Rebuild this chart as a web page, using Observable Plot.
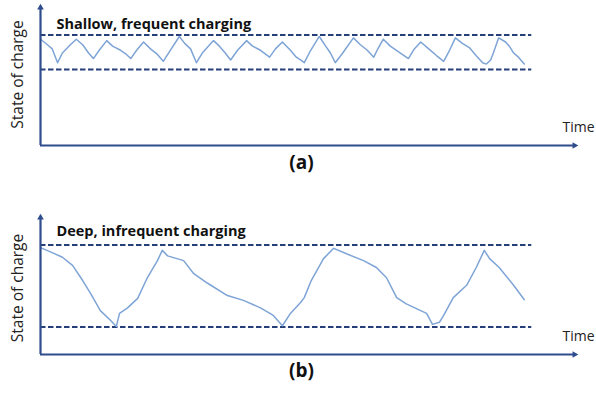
<!DOCTYPE html>
<html><head><meta charset="utf-8">
<script src="https://cdn.jsdelivr.net/npm/d3@7"></script>
<script src="https://cdn.jsdelivr.net/npm/@observablehq/plot@0.6"></script>
<style>
html,body{margin:0;padding:0;background:#fff;}
#wrap{width:596px;font-family:"Open Sans",sans-serif;}
#wrap svg{display:block;}
</style></head><body><div id="wrap"></div>
<script>
// Panel (a): shallow, frequent charging
const timeA = [0,1.3,2.2,3.2,4.1,5.6,6.7,7.9,9.0,9.9,11.0,12.4,13.5,15.0,16.1,16.9,18.0,19.3,20.6,21.9,23.0,24.3,26.0,27.0,28.1,29.2,30.3,32.4,33.5,34.6,35.6,36.9,38.6,39.7,41.2,42.9,44.0,45.3,46.8,47.9,48.7,49.4,50.6,52.2,53.4,54.3,55.2,56.6,58.6,59.9,61.2,62.4,63.3,64.2,65.5,67.4,68.9,70.0,71.2,72.7,74.2,75.5,76.6,77.7,79.0,80.3,81.6,82.8,83.5,84.3,84.8,85.8,87.1,87.8,88.6,89.5,90.6];
const socA  = [77,73,70,60,67,73,77,73,67,63,69,76,72,69,66,63,69,75,70,66,61,69,79,74,70,60,67,76,72,67,62,69,76,72,69,64,70,75,69,64,62,60,69,79,72,67,60,67,78,73,69,64,71,77,72,67,63,70,75,70,65,61,69,78,74,71,65,60,59,62,67,78,75,72,67,64,59];
const boundsA = [80, 55];

// Panel (b): deep, infrequent charging
const timeB = [0,2.4,4.1,6.0,7.9,9.4,11.2,13.1,14.2,14.8,16.3,18.2,20.0,21.9,22.8,23.8,26.8,28.7,31.3,35.0,38.0,41.2,43.6,45.3,46.8,48.7,49.4,50.7,53.0,54.9,57.3,60.5,62.9,64.8,66.7,68.5,70.4,72.3,73.4,74.7,75.5,77.3,79.8,81.6,83.1,84.1,85.9,88.6,90.6];
const socB  = [78,74,71,65,54,44.5,32,25,20.5,30,34,41,56,68.5,76,72,68.5,59,52,43,39.5,34,28.5,21,30,38,41.5,54,70,77.5,73.5,68.5,63.5,56,41.5,37,33.5,30,22,23.5,28.5,41.5,50.5,63.5,76,70,63.5,50.5,40];
const boundsB = [80, 20];

const bandEnd = 92;       // time where dashed limit lines stop
const axisMax = 100;      // axis extent (time and SoC)

const axisColor = "#2f4d8c";
const dashColor = "#273f78";
const lineColor = "#7ea4d6";

function panel({time, soc, bounds, title, label, height, marginTop, titleDy, labelDy, yLabelDy}) {
  const series = time.map((t, i) => ({t, s: soc[i]}));
  return Plot.plot({
    width: 596,
    height,
    marginLeft: 40,
    marginRight: 22,
    marginTop,
    marginBottom: height - marginTop - 138 + (marginTop === 7 ? 0 : 1),
    x: {domain: [0, axisMax], axis: null},
    y: {domain: [0, axisMax], axis: null},
    style: {fontFamily: "'Open Sans', sans-serif", background: "#fff", overflow: "visible"},
    marks: [
      Plot.ruleY(bounds, {x1: 0, x2: bandEnd, stroke: dashColor, strokeWidth: 2, strokeDasharray: "5.5,2.5"}),
      Plot.line(series, {x: "t", y: "s", stroke: lineColor, strokeWidth: 1.5, curve: "linear"}),
      Plot.ruleY([0], {x1: 0, x2: axisMax, stroke: axisColor, strokeWidth: 2.2}),
      Plot.ruleX([0], {y1: 0, y2: axisMax, stroke: axisColor, strokeWidth: 2.2}),
      Plot.dot([axisMax], {x: d => d, y: 0, symbol: "triangle2", r: 3.2, fill: axisColor, rotate: 90}),
      Plot.dot([axisMax], {x: 0, y: d => d, symbol: "triangle2", r: 3.2, fill: axisColor}),
      Plot.text([title], {text: d => d, frameAnchor: "top-left", textAnchor: "start", dx: 16, dy: titleDy, fontSize: 14.5, fontWeight: "bold", fill: "#111"}),
      Plot.text(["Time"], {text: d => d, frameAnchor: "bottom-right", textAnchor: "start", dx: -12, dy: -14, fontSize: 14, fill: "#222"}),
      Plot.text(["State of charge"], {text: d => d, frameAnchor: "left", textAnchor: "middle", rotate: -90, dx: -22, dy: yLabelDy, fontSize: 15.5, fill: "#222"}),
      Plot.text([label], {text: d => d, frameAnchor: "bottom", dx: -6, dy: labelDy, fontSize: 19, fontWeight: "bold", fill: "#111"})
    ]
  });
}

const wrap = document.getElementById("wrap");
wrap.append(panel({time: timeA, soc: socA, bounds: boundsA, title: "Shallow, frequent charging", label: "(a)", height: 185, marginTop: 7, titleDy: 11, labelDy: 23, yLabelDy: -2}));
wrap.append(panel({time: timeB, soc: socB, bounds: boundsB, title: "Deep, infrequent charging", label: "(b)", height: 209, marginTop: 32, titleDy: 8, labelDy: 22, yLabelDy: 2}));
</script></body></html>
